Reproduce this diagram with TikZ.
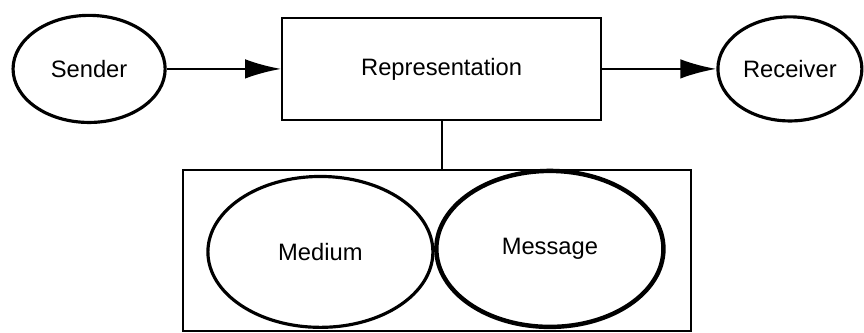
\documentclass[tikz,border=0pt]{standalone}
\usepackage{fontspec}
\setmainfont{Liberation Sans}
\usepackage{tikz}
\usetikzlibrary{shapes.geometric,arrows.meta}

\begin{document}
\begin{tikzpicture}[scale=1.0,
    oval/.style={draw,ellipse,line width=3pt,inner sep=0pt},
    box/.style={draw,rectangle,line width=2pt,inner sep=0pt},
    flow/.style={line width=2.2pt,-{Latex[length=12mm,width=6.5mm]}}]
  \useasboundingbox (0,0) rectangle (28.8,11.067);
  \fontsize{22.5}{27}\selectfont
  % top row
  \node[oval,minimum width=5.07cm,minimum height=3.57cm] (sender) at (2.97,8.77) {Sender};
  \node[box,minimum width=10.63cm,minimum height=3.4cm] (repr) at (14.72,8.77) {Representation};
  \node[oval,minimum width=4.8cm,minimum height=3.47cm] (receiver) at (26.33,8.77) {Receiver};
  \draw[flow] (sender) -- (repr);
  \draw[flow] (repr) -- (receiver);
  % lower box with its two parts
  \node[box,minimum width=16.93cm,minimum height=5.37cm] (content) at (14.57,2.72) {};
  \node[oval,minimum width=7.5cm,minimum height=5.03cm] (medium) at (10.68,2.67) {Medium};
  \node[oval,line width=4.2pt,minimum width=7.57cm,minimum height=5.2cm] (message) at (18.33,2.77) {Message};
  \draw[line width=2pt] (repr.south) -- (repr.south |- content.north);
\end{tikzpicture}
\end{document}
